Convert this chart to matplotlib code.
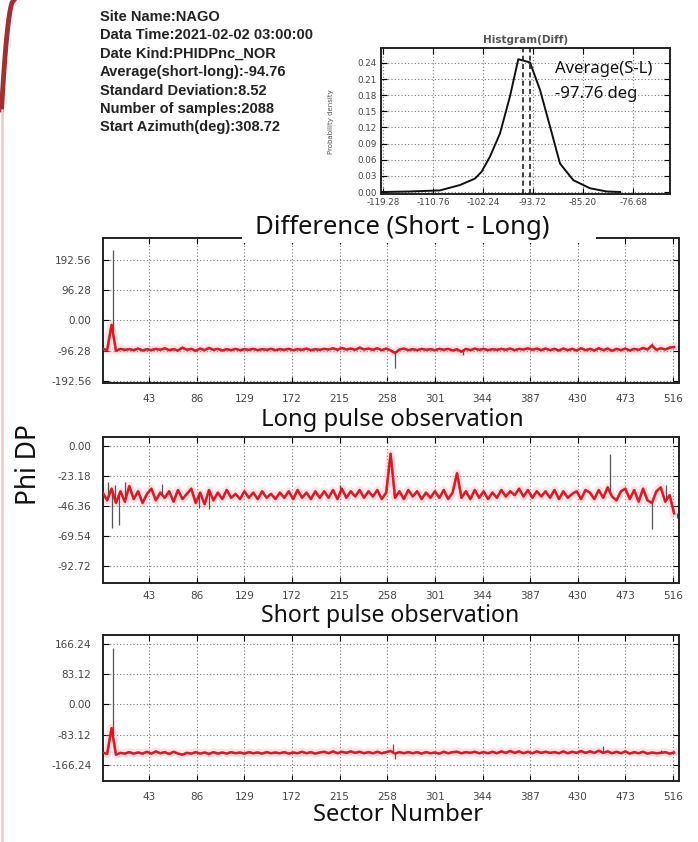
import numpy as np
import matplotlib
matplotlib.use("Agg")
import matplotlib.pyplot as plt
from matplotlib.lines import Line2D
from matplotlib.patches import Rectangle

W, H = 698, 842

# ---- header info ----
info_lines = [
    "Site Name:NAGO",
    "Data Time:2021-02-02 03:00:00",
    "Date Kind:PHIDPnc_NOR",
    "Average(short-long):-94.76",
    "Standard Deviation:8.52",
    "Number of samples:2088",
    "Start Azimuth(deg):308.72",
]

# ---- histogram of the difference ----
hist_x = [-119.48, -114.66, -109.56, -106.15, -103.60, -102.46, -101.04, -99.34,
          -97.64, -96.23, -94.23, -92.53, -90.83, -89.13, -86.86, -84.02, -81.18, -78.90]
hist_y = [0.000, 0.001, 0.003, 0.013, 0.025, 0.038, 0.066, 0.109,
          0.178, 0.247, 0.241, 0.190, 0.122, 0.053, 0.022, 0.007, 0.001, 0.000]
hist_xticks = [-119.28, -110.76, -102.24, -93.72, -85.20, -76.68]
hist_yticks = [0.00, 0.03, 0.06, 0.09, 0.12, 0.15, 0.18, 0.21, 0.24]
hist_marks = [-95.4, -94.2]

# ---- sector series (every 4th sector, 1..517) ----
sector_ticks = [43, 86, 129, 172, 215, 258, 301, 344, 387, 430, 473, 516]

diff_red = [
    -91, -95, -14, -97, -91, -94, -92, -95, -90, -96,
    -92, -95, -91, -94, -89, -95, -92, -96, -87, -94,
    -91, -97, -90, -95, -88, -94, -91, -96, -92, -95,
    -91, -95, -92, -94, -91, -95, -92, -94, -91, -95,
    -92, -94, -91, -95, -92, -94, -90, -95, -92, -94,
    -91, -93, -89, -94, -88, -93, -90, -94, -87, -93,
    -90, -94, -89, -95, -90, -96, -104, -93, -90, -95,
    -92, -95, -91, -94, -92, -95, -91, -94, -91, -96,
    -92, -100, -91, -95, -90, -94, -91, -95, -92, -94,
    -91, -94, -90, -95, -91, -93, -89, -94, -90, -95,
    -90, -95, -91, -96, -90, -95, -91, -96, -89, -95,
    -91, -96, -89, -95, -90, -97, -91, -95, -90, -96,
    -91, -94, -88, -93, -80, -94, -89, -93, -87, -85,
]
diff_spike_x = [10, 265, 326, 497]
diff_spike_y = [225, -152, -112, -72]
diff_ticks = [192.56, 96.28, 0.00, -96.28, -192.56]

long_red = [
    -36, -42, -33, -44, -35, -43, -31, -41, -35, -44,
    -37, -33, -42, -36, -40, -35, -43, -34, -41, -37,
    -33, -44, -36, -45, -34, -42, -36, -41, -34, -40,
    -37, -41, -35, -40, -36, -41, -35, -40, -37, -41,
    -36, -40, -35, -41, -34, -40, -36, -41, -35, -40,
    -35, -40, -34, -41, -33, -40, -35, -39, -34, -40,
    -35, -39, -34, -41, -36, -6, -40, -35, -41, -34,
    -39, -35, -41, -36, -40, -35, -40, -34, -41, -36,
    -21, -40, -35, -41, -34, -40, -35, -41, -36, -40,
    -34, -39, -35, -38, -33, -39, -34, -40, -35, -39,
    -35, -40, -34, -41, -35, -40, -37, -35, -41, -34,
    -36, -41, -34, -40, -32, -39, -42, -35, -33, -41,
    -34, -43, -33, -42, -44, -35, -32, -43, -38, -52,
]
long_spike_x = [6, 9, 12, 16, 21, 55, 88, 97, 215, 459, 497, 510, 520]
long_spike_y = [-28, -63, -30, -61, -28, -29, -48, -49, -30, -6, -64, -30, -56]
long_ticks = [0.00, -23.18, -46.36, -69.54, -92.72]

short_red = [
    -132, -136, -65, -138, -133, -135, -131, -135, -132, -135,
    -130, -135, -129, -134, -131, -136, -130, -135, -138, -133,
    -135, -131, -135, -132, -136, -131, -135, -132, -135, -131,
    -134, -132, -135, -131, -134, -132, -135, -131, -134, -132,
    -134, -131, -135, -132, -134, -130, -134, -131, -135, -132,
    -130, -134, -129, -134, -130, -133, -129, -133, -130, -134,
    -131, -134, -130, -134, -131, -128, -135, -131, -134, -131,
    -134, -131, -135, -131, -134, -132, -135, -130, -134, -131,
    -130, -134, -131, -133, -130, -134, -131, -134, -130, -134,
    -129, -133, -128, -133, -129, -134, -130, -134, -129, -133,
    -130, -133, -131, -134, -129, -134, -130, -133, -128, -133,
    -129, -133, -127, -133, -129, -134, -130, -134, -129, -135,
    -131, -134, -130, -135, -132, -134, -133, -131, -135, -132,
]
short_spike_x = [10, 263, 265, 453, 505]
short_spike_y = [155, -108, -150, -115, -126]
short_ticks = [166.24, 83.12, 0.00, -83.12, -166.24]

sectors = np.arange(1, 518, 4)


def fx(px):
    return px / W


def fy(py):
    return 1 - py / H


def style_axes(ax, yticks, ylabels, xticks, xlabels, size=7.5, pad=8):
    ax.set_xticks(xticks)
    ax.set_xticklabels(xlabels)
    ax.set_yticks(yticks)
    ax.set_yticklabels(ylabels)
    ax.tick_params(direction="in", top=True, right=True, length=4, width=0.8,
                   labelsize=size, labelcolor="#444444", pad=pad)
    ax.grid(True, linestyle=(0, (1, 2)), color="#777777", linewidth=0.8)
    for s in ax.spines.values():
        s.set_linewidth(1.4)
        s.set_color("#222222")


def plot_trace(ax, red, sx, sy, ylim, ticks, xpad=8):
    # raw spikes in gray, rising from the trace
    base = np.interp(sx, sectors, red)
    ax.vlines(sx, base, sy, color="#555555", linewidth=0.9, zorder=3)
    ax.plot(sectors, red, color="#ffb0b8", linewidth=6, alpha=0.35, zorder=2)
    ax.plot(sectors, red, color="#6a2a2a", linewidth=1.9, alpha=0.6, zorder=3)
    ax.plot(sectors, red, color="#ec101c", linewidth=1.5, zorder=4)
    ax.set_xlim(1, 521)
    ax.set_ylim(*ylim)
    style_axes(ax, ticks, [f"{t:.2f}" for t in ticks],
               sector_ticks, [str(t) for t in sector_ticks])
    ax.tick_params(axis="x", pad=xpad)


fig = plt.figure(figsize=(W / 100, H / 100), dpi=100)
fig.patch.set_facecolor("white")

# corner decoration of the slide
t = np.linspace(0, 1, 40)
arc_x = 14 - 12.5 * np.sqrt(t)
arc_y = 110 * t
fig.add_artist(Line2D(fx(arc_x), fy(arc_y), transform=fig.transFigure,
                      color="#a3302e", linewidth=3.5))
fig.add_artist(Line2D([fx(1.5), fx(1.5)], [fy(110), fy(842)], transform=fig.transFigure,
                      color="#ecc9cd", linewidth=1.8))

# info block
for i, line in enumerate(info_lines):
    fig.text(fx(100), fy(17 + i * 18.4), line, fontsize=10.5, fontweight="bold",
             family="Liberation Sans", color="#222222", va="center", ha="left")

# histogram
axh = fig.add_axes([fx(381), fy(194), fx(670) - fx(381), fy(48.3) - fy(194)])
axh.plot(hist_x, hist_y, color="#111111", linewidth=1.4, zorder=3)
for m in hist_marks:
    axh.axvline(m, color="#222222", linestyle=(0, (3, 2)), linewidth=1.2, zorder=3)
axh.set_xlim(-119.6, -70.4)
axh.set_ylim(-0.0037, 0.2673)
style_axes(axh, hist_yticks, [f"{v:.2f}" for v in hist_yticks],
           hist_xticks, [f"{v:.2f}" for v in hist_xticks], size=6.3, pad=3)
axh.set_ylabel("Probability density", fontsize=5, color="#555555", labelpad=17)
axh.set_title("Histgram(Diff)", fontsize=7.5, fontweight="bold", color="#555555", pad=4)
axh.text(fx(555), fy(69), "Average(S-L)", transform=fig.transFigure, fontsize=12,
         family="Noto Sans", va="center", ha="left", color="#111111", zorder=5)
axh.text(fx(555), fy(94), "-97.76 deg", transform=fig.transFigure, fontsize=12,
         family="Noto Sans", va="center", ha="left", color="#111111", zorder=5)

# three sector panels
ax1 = fig.add_axes([fx(102.7), fy(383.3), fx(678.5) - fx(102.7), fy(238.3) - fy(383.3)])
plot_trace(ax1, diff_red, diff_spike_x, diff_spike_y, (-200.9, 262.2), diff_ticks)

ax2 = fig.add_axes([fx(102.7), fy(582.7), fx(678.5) - fx(102.7), fy(437.3) - fy(582.7)])
plot_trace(ax2, long_red, long_spike_x, long_spike_y, (-105.6, 6.7), long_ticks, xpad=6)

ax3 = fig.add_axes([fx(102.7), fy(780.7), fx(678.5) - fx(102.7), fy(635) - fy(780.7)])
plot_trace(ax3, short_red, short_spike_x, short_spike_y, (-209.5, 191.0), short_ticks)

# slide-style captions
fig.add_artist(Rectangle((fx(242), fy(243)), fx(596) - fx(242), fy(213) - fy(243),
                         transform=fig.transFigure, facecolor="white", edgecolor="none",
                         zorder=10))
cap = dict(family="Noto Sans", ha="center", va="center", color="#111111", zorder=11)
fig.text(fx(402), fy(228), "Difference (Short - Long)", fontsize=18.5, **cap)
fig.text(fx(392), fy(420), "Long pulse observation", fontsize=17.2, **cap)
fig.text(fx(390), fy(616), "Short pulse observation", fontsize=16.6, **cap)
fig.text(fx(398), fy(815), "Sector Number", fontsize=17.2, **cap)
fig.text(fx(29), fy(465), "Phi DP", fontsize=19, rotation=90, **cap)

fig.savefig("out.png", dpi=100)
